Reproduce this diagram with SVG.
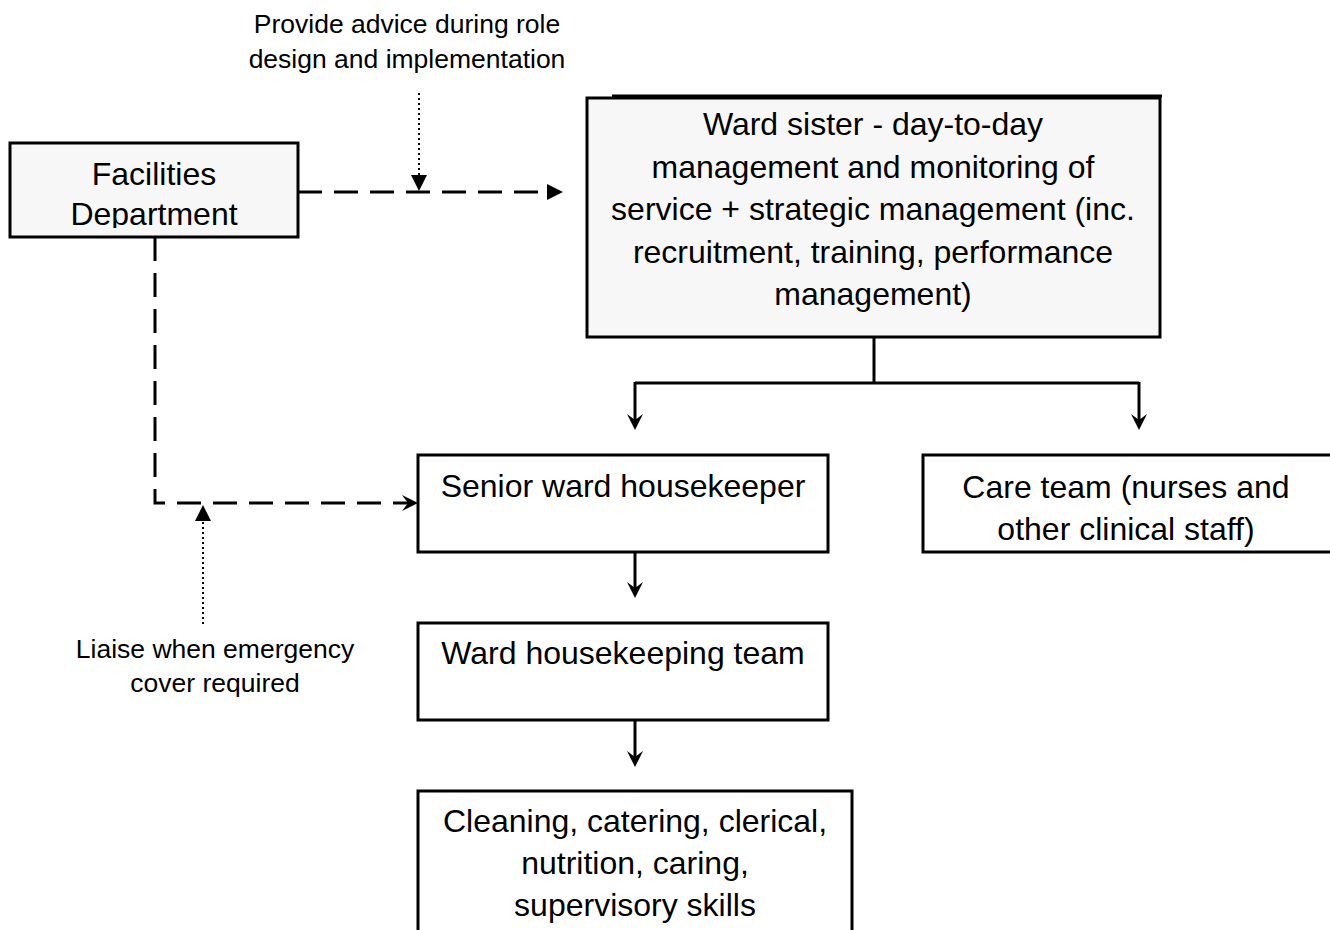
<svg xmlns="http://www.w3.org/2000/svg" width="1330" height="930" viewBox="0 0 1330 930">
  <style>
    .box { stroke: #000; stroke-width: 3; fill: #fff; }
    .shade { fill: #f7f7f7; }
    .node { font-family: "Liberation Sans", Arial, sans-serif; font-size: 32px; fill: #000; text-anchor: middle; }
    .note { font-family: "Liberation Sans", Arial, sans-serif; font-size: 26.5px; fill: #000; text-anchor: middle; }
    .solid { stroke: #000; stroke-width: 3; fill: none; }
    .dash { stroke: #000; stroke-width: 3; fill: none; stroke-dasharray: 24 12; }
    .dot { stroke: #000; stroke-width: 2; fill: none; stroke-dasharray: 2 3; }
  </style>
  <defs>
    <!-- notched arrowhead, reference point 10px behind the tip -->
    <marker id="notch" markerUnits="userSpaceOnUse" markerWidth="22" markerHeight="22" viewBox="-18 -11 22 22" refX="-10" refY="0" orient="auto">
      <path d="M0,0 L-16,-8 L-10,0 L-16,8 Z" fill="#000"/>
    </marker>
    <!-- filled triangle arrowhead, reference point at its base -->
    <marker id="tri" markerUnits="userSpaceOnUse" markerWidth="20" markerHeight="20" viewBox="-18 -10 20 20" refX="-16" refY="0" orient="auto">
      <path d="M0,0 L-16,-8 L-16,8 Z" fill="#000"/>
    </marker>
    <clipPath id="facClip">
      <rect x="10" y="143" width="288" height="85"/>
    </clipPath>
  </defs>

  <!-- connectors -->
  <g id="connectors">
    <path class="dash" d="M298,192 H547" marker-end="url(#tri)"/>
    <path class="dot" d="M419,93 V175" marker-end="url(#tri)"/>
    <path class="dash" d="M155,237 V503 H408" marker-end="url(#notch)"/>
    <path class="dot" d="M203,624 V521" marker-end="url(#tri)"/>
    <path class="solid" d="M874,337 V383"/>
    <path class="solid" d="M635,383 H1139"/>
    <path class="solid" d="M635,382 V420" marker-end="url(#notch)"/>
    <path class="solid" d="M1139,382 V420" marker-end="url(#notch)"/>
    <path class="solid" d="M635,552 V588" marker-end="url(#notch)"/>
    <path class="solid" d="M635,720 V757" marker-end="url(#notch)"/>
  </g>

  <!-- free-standing notes -->
  <g id="note-advice">
    <text class="note" x="407" y="33">Provide advice during role</text>
    <text class="note" x="407" y="68">design and implementation</text>
  </g>
  <g id="note-liaise">
    <text class="note" x="215" y="658">Liaise when emergency</text>
    <text class="note" x="215" y="692">cover required</text>
  </g>

  <g id="facilities">
    <rect class="box shade" x="10" y="143" width="288" height="94" stroke-width="3.5"/>
    <g clip-path="url(#facClip)">
      <text class="node" x="154" y="185">Facilities</text>
      <text class="node" x="154" y="225">Department</text>
    </g>
  </g>

  <g id="ward-sister">
    <rect class="box shade" x="587" y="98" width="573" height="239" stroke-width="4"/>
    <path d="M612,96 H1162" stroke="#000" stroke-width="3"/>
    <text class="node" x="873" y="135">Ward sister - day-to-day</text>
    <text class="node" x="873" y="178">management and monitoring of</text>
    <text class="node" x="873" y="220">service + strategic management (inc.</text>
    <text class="node" x="873" y="263">recruitment, training, performance</text>
    <text class="node" x="873" y="305">management)</text>
  </g>

  <g id="senior-housekeeper">
    <rect class="box" x="418" y="455" width="410" height="97"/>
    <text class="node" x="623" y="497">Senior ward housekeeper</text>
  </g>

  <g id="care-team">
    <rect class="box" x="923" y="455" width="420" height="97"/>
    <text class="node" x="1126" y="498">Care team (nurses and</text>
    <text class="node" x="1126" y="540">other clinical staff)</text>
  </g>

  <g id="housekeeping-team">
    <rect class="box" x="418" y="623" width="410" height="97"/>
    <text class="node" x="623" y="664">Ward housekeeping team</text>
  </g>

  <g id="skills">
    <rect class="box" x="418" y="791" width="434" height="160"/>
    <text class="node" x="635" y="832">Cleaning, catering, clerical,</text>
    <text class="node" x="635" y="874">nutrition, caring,</text>
    <text class="node" x="635" y="916">supervisory skills</text>
  </g>
</svg>
